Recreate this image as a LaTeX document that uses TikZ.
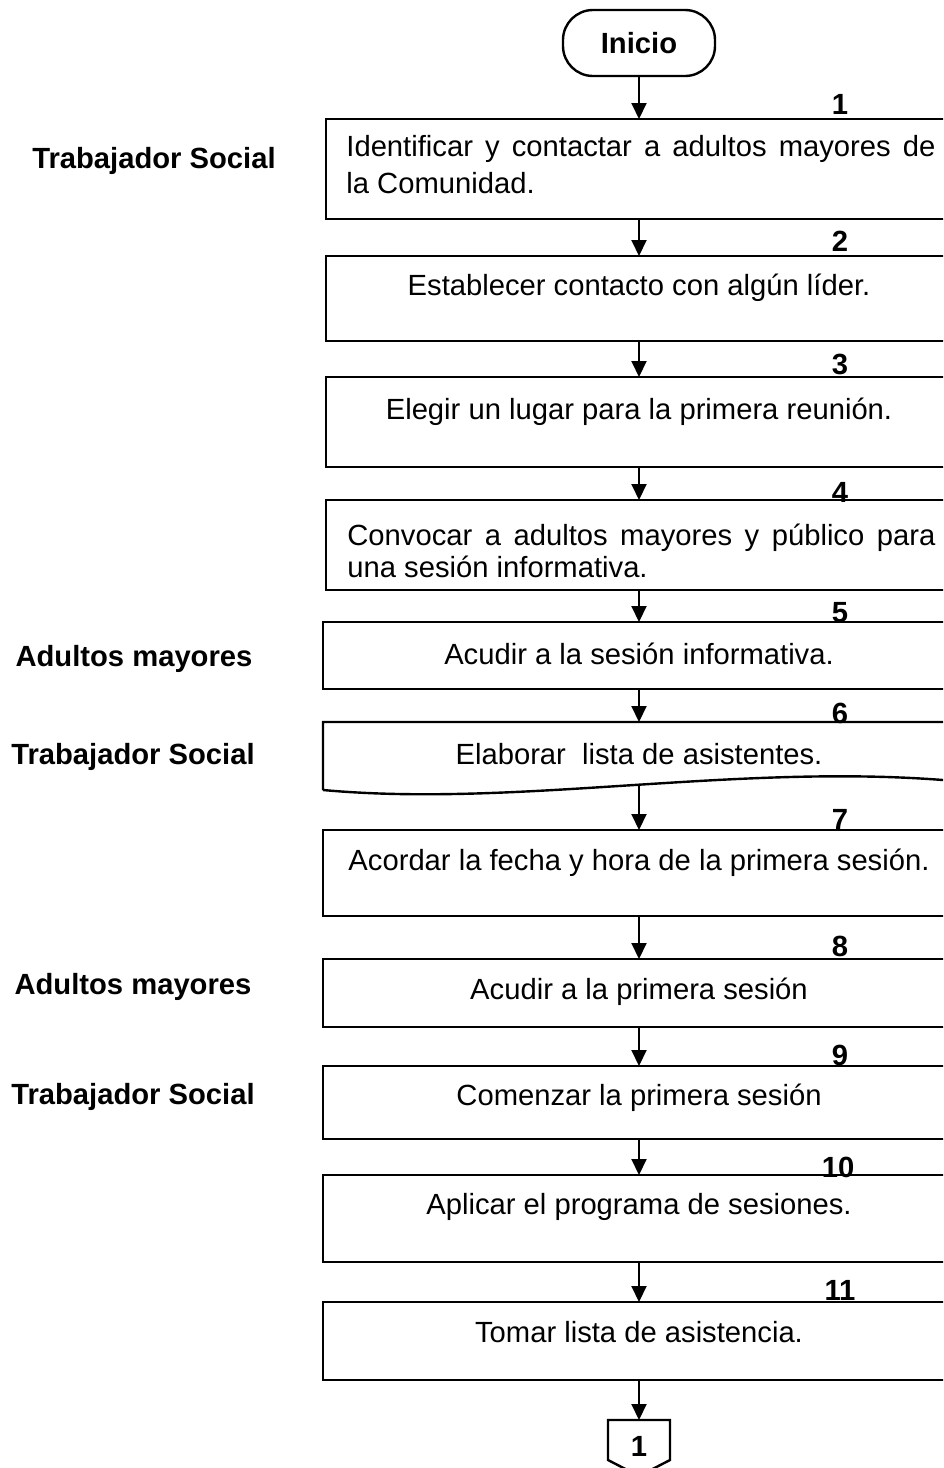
\documentclass[tikz,border=0pt]{standalone}
\usepackage{fontspec}
\setmainfont{Liberation Sans}
\usetikzlibrary{arrows.meta}
\begin{document}
\begin{tikzpicture}[x=0.5pt,y=-0.5pt,
  box/.style={draw, line width=1.2pt, rectangle, inner sep=0pt, outer sep=0pt},
  ghost/.style={rectangle, inner sep=0pt, outer sep=0pt},
  arr/.style={line width=1pt, -{Triangle[length=8pt,width=7.5pt]}},
  lane/.style={font=\bfseries\fontsize{14.6}{17}\selectfont, anchor=base, inner sep=0pt},
  num/.style={font=\bfseries\fontsize{14.6}{17}\selectfont, inner sep=0pt},
  txt/.style={font=\fontsize{14.6}{17}\selectfont, anchor=base, inner sep=0pt},
]
\useasboundingbox (0,0) rectangle (943,1468);
\clip (0,0) rectangle (943,1468);

% start
\node[draw, line width=1.2pt, rounded corners=15pt, minimum width=76pt, minimum height=33pt,
      inner sep=0pt, outer sep=0pt, font=\bfseries\fontsize{14.6}{17}\selectfont] (inicio) at (639,43) {Inicio};

% boxes
\node[box, minimum width=313pt, minimum height=50pt]   (b1)  at (639,169) {};
\node[box, minimum width=313pt, minimum height=42.5pt] (b2)  at (639,298.5) {};
\node[box, minimum width=313pt, minimum height=45pt]   (b3)  at (639,422) {};
\node[box, minimum width=313pt, minimum height=45pt]   (b4)  at (639,545) {};
\node[box, minimum width=316pt, minimum height=33.5pt] (b5)  at (639,655.5) {};
\node[ghost, minimum width=316pt, minimum height=34pt] (b6)  at (639,756) {};
\node[box, minimum width=316pt, minimum height=43pt]   (b7)  at (639,873) {};
\node[box, minimum width=316pt, minimum height=34pt]   (b8)  at (639,993) {};
\node[box, minimum width=316pt, minimum height=36.5pt] (b9)  at (639,1102.5) {};
\node[box, minimum width=316pt, minimum height=43.5pt] (b10) at (639,1218.5) {};
\node[box, minimum width=316pt, minimum height=39pt]   (b11) at (639,1341) {};

% document shape for step 6
\draw[line width=1.2pt] (b6.south west) -- (b6.north west) -- (b6.north east)
  -- ([yshift=4.5pt]b6.south east) .. controls (740,762) and (520,808) .. (b6.south west);
\coordinate (b6s) at (639,786);

% off-page connector
\node[ghost, minimum width=31pt, minimum height=26pt, font=\bfseries\fontsize{14.6}{17}\selectfont] (conn) at (639,1446) {1};
\draw[line width=1.2pt] (conn.north west) -- (conn.north east) -- ([yshift=6pt]conn.south east)
  -- ([yshift=-2pt]conn.south) -- ([yshift=6pt]conn.south west) -- cycle;

% texts
\node[txt, anchor=base west, text width=294.5pt, align=justify,
      font=\fontsize{14.6}{18.5}\selectfont] (t1) at (346,156)
  {Identificar y contactar a adultos mayores de\linebreak la Comunidad.};
\node[txt] (t2) at (639,295) {Establecer contacto con algún líder.};
\node[txt] (t3) at (639,419) {Elegir un lugar para la primera reunión.};
\node[txt, anchor=base west, text width=294pt, align=justify,
      font=\fontsize{14.6}{16}\selectfont] (t4) at (347,545)
  {Convocar a adultos mayores y público para\linebreak una sesión informativa.};
\node[txt] (t5) at (639,664) {Acudir a la sesión informativa.};
\node[txt] (t6) at (639,764) {Elaborar\ \ lista de asistentes.};
\node[txt] (t7) at (639,870) {Acordar la fecha y hora de la primera sesión.};
\node[txt] (t8) at (639,999) {Acudir a la primera sesión};
\node[txt] (t9) at (639,1105) {Comenzar la primera sesión};
\node[txt] (t10) at (639,1214) {Aplicar el programa de sesiones.};
\node[txt] (t11) at (639,1342) {Tomar lista de asistencia.};

% step numbers
\node[num] (n1)  at (840,104)  {1};
\node[num] (n2)  at (840,241)  {2};
\node[num] (n3)  at (840,364)  {3};
\node[num] (n4)  at (840,492)  {4};
\node[num] (n5)  at (840,613)  {5};
\node[num] (n6)  at (840,713)  {6};
\node[num] (n7)  at (840,819)  {7};
\node[num] (n8)  at (840,946)  {8};
\node[num] (n9)  at (840,1055) {9};
\node[num] (n10) at (838,1167) {10};
\node[num] (n11) at (840,1290) {11};

% lane labels
\node[lane] (l1) at (154,168)  {Trabajador Social};
\node[lane] (l2) at (134,666)  {Adultos mayores};
\node[lane] (l3) at (133,764)  {Trabajador Social};
\node[lane] (l4) at (133,994)  {Adultos mayores};
\node[lane] (l5) at (133,1104) {Trabajador Social};

% connectors
\draw[arr] (inicio.south) -- (b1.north);
\draw[arr] (b1.south) -- (b2.north);
\draw[arr] (b2.south) -- (b3.north);
\draw[arr] (b3.south) -- (b4.north);
\draw[arr] (b4.south) -- (b5.north);
\draw[arr] (b5.south) -- (b6.north);
\draw[arr] (b6s) -- (b7.north);
\draw[arr] (b7.south) -- (b8.north);
\draw[arr] (b8.south) -- (b9.north);
\draw[arr] (b9.south) -- (b10.north);
\draw[arr] (b10.south) -- (b11.north);
\draw[arr] (b11.south) -- (conn.north);
\end{tikzpicture}
\end{document}
